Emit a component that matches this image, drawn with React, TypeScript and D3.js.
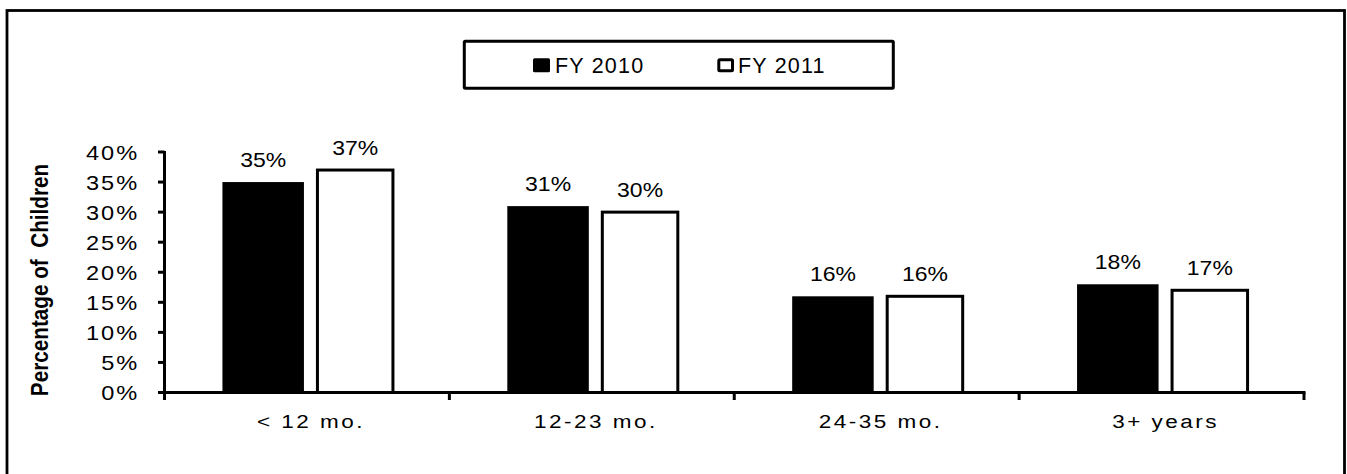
import React from "react";
import * as d3 from "d3";

const categories = ["< 12 mo.", "12-23 mo.", "24-35 mo.", "3+ years"];
const fy2010 = [35, 31, 16, 18];
const fy2011 = [37, 30, 16, 17];
const seriesNames = ["FY 2010", "FY 2011"];
const yTicks = [0, 5, 10, 15, 20, 25, 30, 35, 40];
const yTitle = "Percentage of  Children";

const FONT = "'Liberation Sans', Arial, Helvetica, sans-serif";

export default function App() {
  const W = 1347;
  const H = 474;
  const x = d3.scaleBand<string>().domain(categories).range([164.5, 1304]).padding(0);
  const y = d3.scaleLinear().domain([0, 40]).range([392.5, 152]);
  const bw = x.bandwidth();

  const txt = (
    key: string,
    s: string,
    tx: number,
    ty: number,
    opts: { size: number; sx?: number; ls?: number; anchor?: string; weight?: string }
  ) => (
    <text
      key={key}
      transform={`translate(${tx},${ty}) scale(${opts.sx ?? 1},1)`}
      textAnchor={opts.anchor ?? "middle"}
      fontSize={opts.size}
      fontWeight={opts.weight ?? "normal"}
      letterSpacing={opts.ls ?? 0}
      fontFamily={FONT}
      fill="#000"
      style={{ whiteSpace: "pre" }}
    >
      {s}
    </text>
  );

  return (
    <svg
      width={W}
      height={H}
      style={{ position: "absolute", left: 0, top: 0, background: "#fff", overflow: "hidden" }}
    >
      <rect x={0} y={0} width={W} height={H} fill="#fff" />
      {/* outer frame */}
      <rect x={7} y={10.5} width={1337.5} height={480} fill="none" stroke="#000" strokeWidth={2.8} />

      {/* legend */}
      <rect x={464.3} y={41.3} width={429} height={47} fill="#fff" stroke="#000" strokeWidth={3} rx={1} />
      <rect x={533} y={58.3} width={17} height={14} fill="#000" rx={1.5} />
      {txt("l0", seriesNames[0], 555, 73.3, { size: 21.5, ls: 1.2, anchor: "start" })}
      <rect x={718.8} y={59.8} width={13.7} height={11} fill="#fff" stroke="#000" strokeWidth={3} rx={1} />
      {txt("l1", seriesNames[1], 738, 73.3, { size: 21.5, ls: 1.2, anchor: "start" })}

      {/* bars */}
      {categories.map((c, i) => {
        const cx = (x(c) as number) + bw / 2;
        const v0 = fy2010[i];
        const v1 = fy2011[i];
        const bx0 = cx - 84.5;
        const bx1 = cx + 10.5;
        return (
          <g key={c}>
            <rect x={bx0} y={y(v0)} width={81.5} height={y(0) - y(v0)} fill="#000" />
            <rect
              x={bx1}
              y={y(v1)}
              width={75.5}
              height={y(0) - y(v1)}
              fill="#fff"
              stroke="#000"
              strokeWidth={3}
            />
            {txt("d0" + i, `${v0}%`, bx0 + 81.5 / 2, y(v0) - 15, { size: 20, sx: 1.15 })}
            {txt("d1" + i, `${v1}%`, bx1 + 75.5 / 2, y(v1) - 15, { size: 20, sx: 1.15 })}
          </g>
        );
      })}

      {/* y axis */}
      <line x1={164.5} x2={164.5} y1={151} y2={400} stroke="#000" strokeWidth={3} />
      {yTicks.map((t) => (
        <g key={t}>
          <line x1={158} x2={164.5} y1={y(t)} y2={y(t)} stroke="#000" strokeWidth={3} />
          {txt("yt" + t, `${t}%`, 139, y(t) + 7.5, { size: 20, sx: 1.18, ls: 1.6, anchor: "end" })}
        </g>
      ))}

      {/* x axis */}
      <line x1={163} x2={1305.5} y1={y(0)} y2={y(0)} stroke="#000" strokeWidth={3} />
      {categories.map((c) => {
        const xe = (x(c) as number) + bw;
        return <line key={"xt" + c} x1={xe} x2={xe} y1={y(0)} y2={400} stroke="#000" strokeWidth={3} />;
      })}
      {categories.map((c) =>
        txt("cl" + c, c, (x(c) as number) + bw / 2 + 4, 428.3, { size: 18, sx: 1.25, ls: 2 })
      )}

      {/* y title */}
      <text
        transform={`translate(48,280) rotate(-90) scale(0.9,1)`}
        textAnchor="middle"
        fontSize={23}
        fontWeight="bold"
        fontFamily={FONT}
        fill="#000"
        style={{ whiteSpace: "pre" }}
      >
        {yTitle}
      </text>
    </svg>
  );
}
